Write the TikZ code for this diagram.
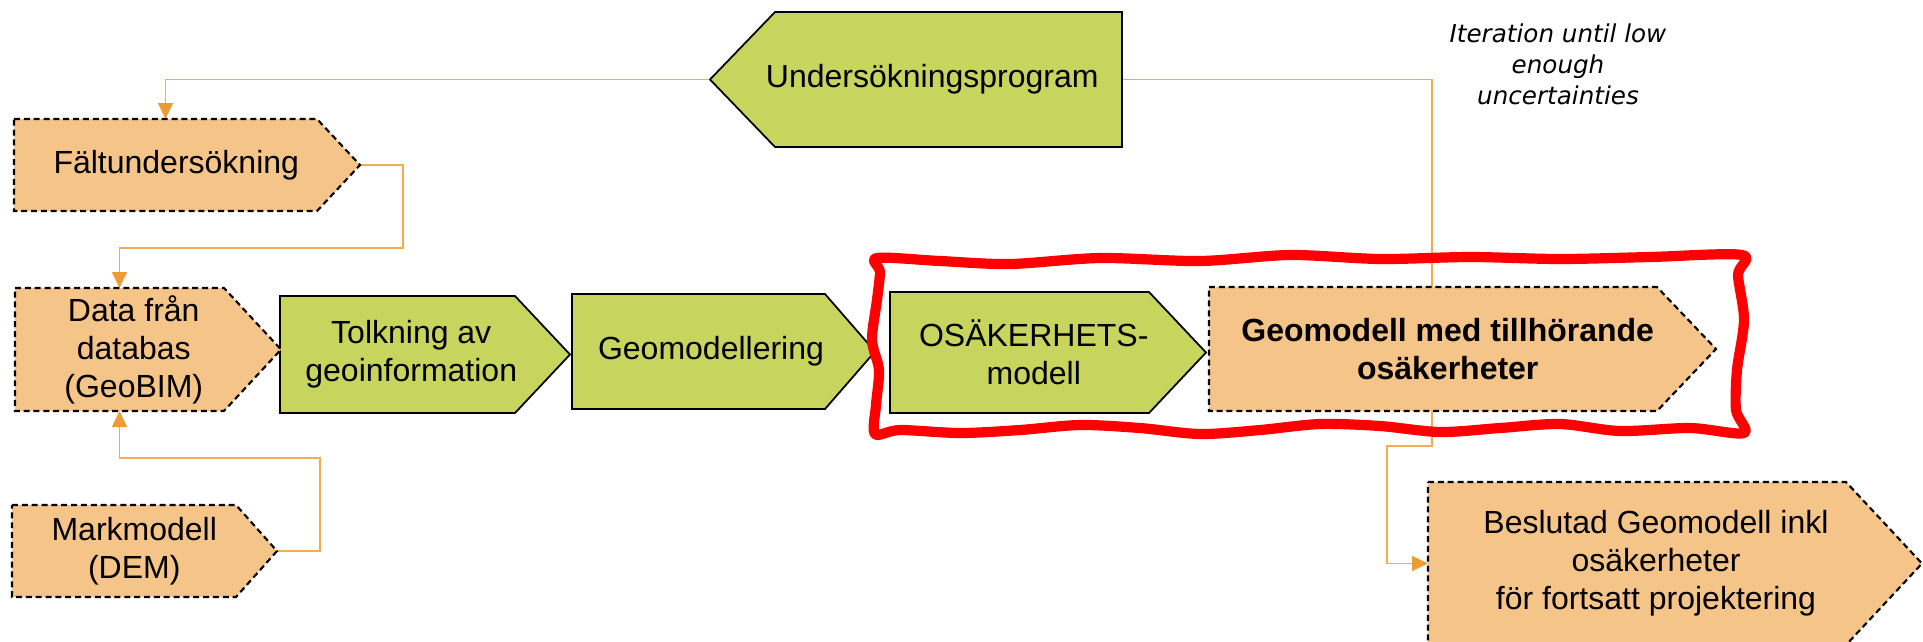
\documentclass[tikz,border=0pt]{standalone}
\usepackage{fontspec}
\setmainfont{Liberation Sans}
\newfontfamily\notefont{DejaVu Sans}
\usetikzlibrary{arrows.meta,backgrounds}

\definecolor{boxgreen}{RGB}{199,213,94}
\definecolor{boxorange}{RGB}{245,196,137}
\definecolor{linkorange}{RGB}{243,172,84}
\definecolor{tiporange}{RGB}{237,155,52}

\tikzset{
  greenbox/.style={draw=black, line width=0.5pt, fill=boxgreen},
  orangebox/.style={draw=black, line width=0.6pt, dash pattern=on 1.7pt off 1.1pt, fill=boxorange},
  boxtext/.style={align=center, inner sep=0pt, font=\fontsize{9.1}{10.8}\selectfont},
  link/.style={draw=linkorange, line width=0.45pt, -{Triangle[length=1.6mm, width=1.5mm, color=tiporange]}},
  wavyframe/.style={draw=red, line width=2.9pt, line join=round},
}

\begin{document}
\begin{tikzpicture}[x=0.01cm, y=-0.01cm]
\useasboundingbox (0,0) rectangle (1923,641);

% --- Gröna steg: namn/bak/kropp/spets/topp/botten/text ---
\foreach \n/\xa/\xb/\xc/\ya/\yb/\txt in {
    und/1122/775/710/12/147/{Undersökningsprogram},
    tolk/280/515/570/296/413/{Tolkning av\\geoinformation},
    geo/572/825/875/294/409/{Geomodellering},
    osak/890/1149/1206/292/413/{OSÄKERHETS-\\modell}}{
    \draw[greenbox] (\xa,\ya) -- (\xb,\ya) -- (\xc,{(\ya+\yb)/2}) -- (\xb,\yb) -- (\xa,\yb) -- cycle;
    \node[boxtext] (\n) at ({(2*\xa+\xb+\xc)/4},{(\ya+\yb)/2}) {\txt};
    \coordinate (\n-tip) at (\xc,{(\ya+\yb)/2});
    \coordinate (\n-back) at (\xa,{(\ya+\yb)/2});
}

% --- Streckade indata/resultat ---
\foreach \n/\xa/\xb/\xc/\ya/\yb/\txt in {
    falt/14/317/360/119/211/{Fältundersökning},
    data/15/224/281/288/411/{Data från\\databas\\(GeoBIM)},
    mark/12/236/277/505/597/{Markmodell\\(DEM)},
    gmo/1209/1657/1716/287/411/{\textbf{Geomodell med tillhörande}\\\textbf{osäkerheter}},
    besl/1428/1846/1922/482/645/{Beslutad Geomodell inkl\\osäkerheter\\för fortsatt projektering}}{
    \draw[orangebox] (\xa,\ya) -- (\xb,\ya) -- (\xc,{(\ya+\yb)/2}) -- (\xb,\yb) -- (\xa,\yb) -- cycle;
    \node[boxtext] (\n) at ({(2*\xa+\xb+\xc)/4},{(\ya+\yb)/2}) {\txt};
    \coordinate (\n-tip) at (\xc,{(\ya+\yb)/2});
    \coordinate (\n-back) at (\xa,{(\ya+\yb)/2});
    \coordinate (\n-n) at ({(\xa+\xb)/2},\ya);
    \coordinate (\n-s) at ({(\xa+\xb)/2},\yb);
}

% --- Pilar bakom stegen ---
\begin{scope}[on background layer]
\draw[link] (und-tip) -| (falt-n);
\draw[link] (falt-tip) -| (403,248) -| (data-n);
\draw[link] (mark-tip) -| (320,458) -| (data-s);
\draw[link] (und-back) -| (1432,446) -- (1387,446) |- (besl-back);
\end{scope}

% --- Röd ram runt osäkerhetsdelen ---
\draw[wavyframe] plot[smooth cycle, tension=0.5] coordinates {
    (877,258) (940,261) (1010,264) (1100,258) (1200,261) (1290,255) (1380,259)
    (1470,257) (1560,259) (1650,257) (1742,255)
    (1738,275) (1744,320) (1737,370) (1736,410) (1744,433)
    (1690,428) (1620,431) (1560,424) (1500,428) (1440,432) (1380,426) (1320,424)
    (1260,430) (1200,434) (1140,428) (1080,425) (1020,430) (960,433) (900,430) (875,434)
    (876,405) (879,370) (872,340) (877,300) (880,272)};

% --- Kommentar ---
\node[align=center, inner sep=0pt, font=\notefont\itshape\fontsize{7}{8.8}\selectfont] (iter) at (1558,64)
    {Iteration until low\\enough\\uncertainties};

\end{tikzpicture}
\end{document}
